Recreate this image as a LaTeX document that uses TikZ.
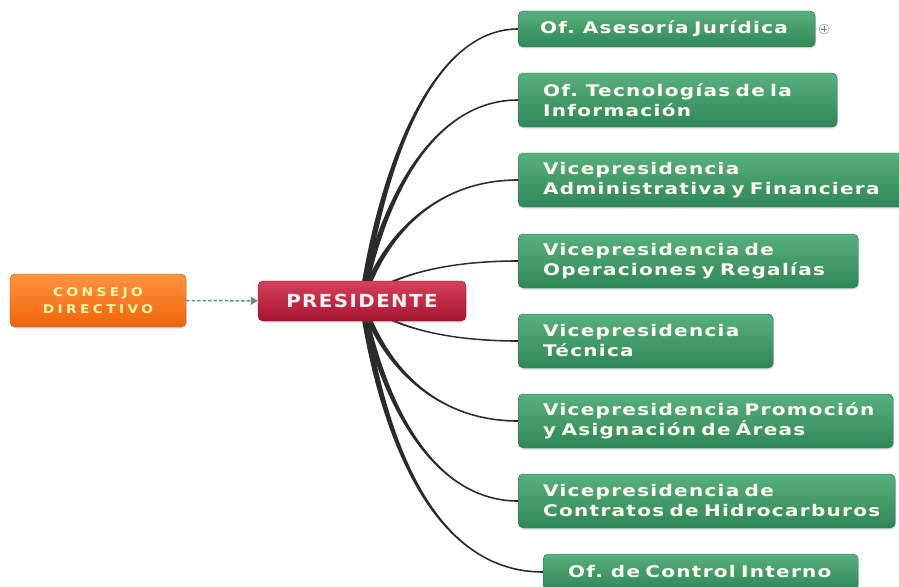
\documentclass[tikz,border=0pt]{standalone}
\usepackage{fontspec}
\newfontfamily\cajafont[LetterSpace=8,FakeStretch=1.25,WordSpace=1.3]{DejaVu Sans}
\newfontfamily\presfont[LetterSpace=8,FakeStretch=1.1]{DejaVu Sans}
\newfontfamily\consfont[LetterSpace=28,FakeStretch=1.15]{DejaVu Sans}
\usetikzlibrary{calc,shadows,arrows.meta,backgrounds}
\definecolor{verdeA}{HTML}{58B07E}
\definecolor{verdeB}{HTML}{2E8756}
\definecolor{verdeC}{HTML}{2A6E48}
\definecolor{rojoA}{HTML}{D6405A}
\definecolor{rojoB}{HTML}{A8142E}
\definecolor{naranjaA}{HTML}{FF9440}
\definecolor{naranjaB}{HTML}{F0640A}
\definecolor{ramacol}{HTML}{2B2B2B}
\definecolor{flechacol}{HTML}{5F8E8E}
\tikzset{
	caja/.style={rounded corners=5pt, draw=verdeC, top color=verdeA, bottom color=verdeB,
		text=white!94!yellow, anchor=west, align=left, inner xsep=25pt, inner ysep=0pt,
		font=\cajafont\bfseries\fontsize{16}{20}\selectfont,
		drop shadow={opacity=0.25, shadow xshift=1pt, shadow yshift=-1.5pt}},
	rama/.style={fill=ramacol},
	flecha/.style={draw=flechacol, line width=1.5pt, dash pattern=on 3.5pt off 2pt, -{Triangle[length=7pt,width=8pt,fill=flechacol]}},
}
\newcommand{\rama}[1]{%
	\fill[rama] let \p1=(pres.center), \p2=(#1.west), \n1={\y2+0.5*(\y1-\y2)}, \n2={0.8*sign(\y2-\y1)} in
		(\x1-3pt,\y1) .. controls (\x1+17pt,\n1) and (\x1+70pt,\y2+\n2) .. (\x2,\y2+\n2)
		-- (\x2,\y2-\n2) .. controls (\x1+70pt,\y2-\n2) and (\x1+23pt,\n1) .. (\x1+3pt,\y1) -- cycle;
}
\begin{document}
\begin{tikzpicture}[x=1pt,y=-1pt]
	\clip (0,0) rectangle (899,586);
	\node[rounded corners=5pt, draw=naranjaB!80!black, top color=naranjaA, bottom color=naranjaB, text=yellow!35!white,
		minimum width=176pt, minimum height=53pt, align=center, font=\consfont\bfseries\fontsize{12}{17}\selectfont,
		drop shadow={opacity=0.25, shadow xshift=1pt, shadow yshift=-1.5pt}] (consejo) at (98,300.5) {CONSEJO\\DIRECTIVO};
	\node[rounded corners=5pt, draw=rojoB!80!black, top color=rojoA, bottom color=rojoB, text=red!5!white,
		minimum width=208pt, minimum height=40pt, font=\presfont\bfseries\fontsize{18}{20}\selectfont,
		drop shadow={opacity=0.25, shadow xshift=1pt, shadow yshift=-1.5pt}] (pres) at (362,301) {PRESIDENTE};
	\draw[flecha] (consejo) -- (pres);

	\node[caja, text width=253pt, minimum height=36pt, inner xsep=22pt] (juridica) at (518,29) {Of. Asesoría Jurídica};
	\node[caja, text width=269pt, minimum height=54pt] (tecno) at (518,100) {Of. Tecnologías de la\\Información};
	\node[caja, text width=340pt, minimum height=54pt] (admin) at (518,180) {Vicepresidencia\\\mbox{Administrativa y Financiera}};
	\node[caja, text width=290pt, minimum height=54pt] (opera) at (518,261) {Vicepresidencia de\\Operaciones y Regalías};
	\node[caja, text width=205pt, minimum height=54pt] (tecnica) at (518,341) {Vicepresidencia\\Técnica};
	\node[caja, text width=325pt, minimum height=54pt] (promo) at (518,421) {\mbox{Vicepresidencia Promoción}\\y Asignación de Áreas};
	\node[caja, text width=327pt, minimum height=54pt] (contratos) at (518,501) {Vicepresidencia de\\\mbox{Contratos de Hidrocarburos}};
	\node[caja, text width=265pt, minimum height=36pt] (control) at (543,572) {Of. de Control Interno};

	\node[circle, draw=gray, fill=white, inner sep=0pt, minimum size=10pt] (mas) at (824,29) {};
	\draw[gray, line width=0.7pt] ($(mas.center)+(-3,0)$) -- ($(mas.center)+(3,0)$) ($(mas.center)+(0,-3)$) -- ($(mas.center)+(0,3)$);

	\begin{scope}[on background layer]
		\fill[white] (0,0) rectangle (899,586);
		\foreach \destino in {juridica,tecno,admin,opera,tecnica,promo,contratos,control}
			\rama{\destino};
	\end{scope}
\end{tikzpicture}
\end{document}
